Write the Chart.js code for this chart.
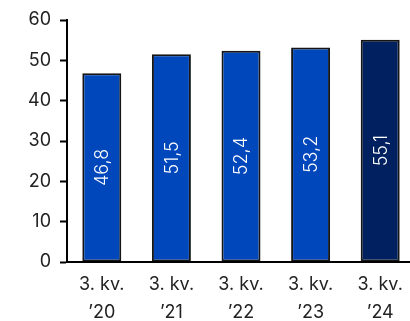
<!DOCTYPE html>
<html>
<head>
<meta charset="utf-8">
<script src="https://cdn.jsdelivr.net/npm/chart.js@4/dist/chart.umd.min.js"></script>
<style>
  html, body { margin: 0; padding: 0; background: #fff; overflow: hidden; }
  #wrap { width: 415px; height: 321px; }
</style>
</head>
<body>
<div id="wrap"><canvas id="chart" width="415" height="321"></canvas></div>
<script>
// Data
const categories = [['3. kv.', '’20'], ['3. kv.', '’21'], ['3. kv.', '’22'], ['3. kv.', '’23'], ['3. kv.', '’24']];
const values = [46.8, 51.5, 52.4, 53.2, 55.1];
const yTicks = [0, 10, 20, 30, 40, 50, 60];

const barColors = ['#0047bb', '#0047bb', '#0047bb', '#0047bb', '#002060'];
const fontFamily = 'Inter, "DejaVu Sans", sans-serif';

// Rotated value labels inside the bars
const valueLabels = {
  id: 'valueLabels',
  afterDatasetsDraw(chart) {
    const ctx = chart.ctx;
    const meta = chart.getDatasetMeta(0);
    ctx.save();
    ctx.fillStyle = '#fff';
    ctx.font = '300 18px ' + fontFamily;
    ctx.textAlign = 'center';
    ctx.textBaseline = 'middle';
    meta.data.forEach((bar, i) => {
      const midY = (bar.y + bar.base) / 2;
      ctx.save();
      ctx.translate(bar.x, midY);
      ctx.rotate(-Math.PI / 2);
      ctx.fillText(values[i].toFixed(1).replace('.', ','), 0, 1);
      ctx.restore();
    });
    ctx.restore();
  }
};

new Chart(document.getElementById('chart').getContext('2d'), {
  type: 'bar',
  data: {
    labels: categories,
    datasets: [{
      data: values,
      backgroundColor: barColors,
      borderColor: '#151515',
      borderWidth: 2,
      borderSkipped: false,
      barPercentage: 0.56,
      categoryPercentage: 1
    }]
  },
  options: {
    responsive: false,
    animation: false,
    layout: { padding: { top: 20, left: 0, right: 0, bottom: 0 } },
    plugins: {
      legend: { display: false },
      tooltip: { enabled: false }
    },
    scales: {
      x: {
        afterFit: s => { s.height = 59; },
        grid: { display: false, drawTicks: false },
        border: { color: '#000', width: 2, z: 1 },
        ticks: {
          color: '#222',
          padding: 9,
          maxRotation: 0,
          font: { family: fontFamily, size: 18, lineHeight: 1.55 }
        }
      },
      y: {
        min: 0,
        max: 60,
        afterFit: s => { s.width = 67; },
        afterBuildTicks: s => { s.ticks = yTicks.map(v => ({ value: v })); },
        grid: { drawOnChartArea: false, tickLength: 7, color: '#000', tickWidth: 2 },
        border: { color: '#000', width: 2 },
        ticks: {
          color: '#222',
          padding: 9,
          font: { family: fontFamily, size: 18 }
        }
      }
    }
  },
  plugins: [valueLabels]
});
</script>
</body>
</html>
